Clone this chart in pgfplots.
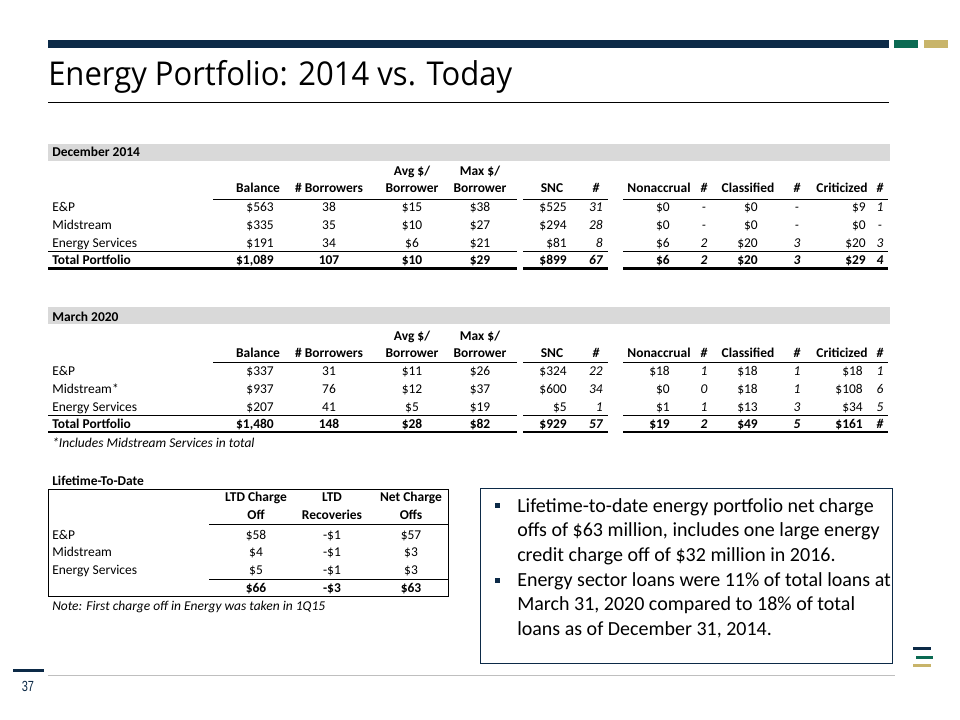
\documentclass[border=0pt]{standalone}
\usepackage{pgfplots}
\pgfplotsset{compat=1.18}
\usepackage{fontspec}
\setmainfont{Carlito}
\newfontfamily\titlefont{Open Sans}
\newfontfamily\numfont{Liberation Sans}
\definecolor{navy}{HTML}{0C2A47}
\definecolor{dgreen}{HTML}{0B6A52}
\definecolor{gold}{HTML}{C8B46A}
\definecolor{bargray}{HTML}{D9D9D9}
\definecolor{linegray}{HTML}{BFBFBF}
\newcommand{\tf}{\fontsize{10.1pt}{12pt}\selectfont}
\newcommand{\bulletfont}{\fontsize{15pt}{18pt}\selectfont}
\newsavebox\titlebox
\pgfplotsset{
  cells/.style={draw=none, mark=none, nodes near coords, point meta=explicit symbolic,
    every node near coord/.append style={inner sep=0pt, text=black, font=\tf}},
  R/.style={cells, every node near coord/.append style={anchor=base east}},
  C/.style={cells, every node near coord/.append style={anchor=base}},
  B/.style={every node near coord/.append style={font=\tf\bfseries}},
  I/.style={every node near coord/.append style={font=\tf\itshape}},
  BI/.style={every node near coord/.append style={font=\tf\bfseries\itshape}},
}
\begin{document}%
\sbox\titlebox{\titlefont\fontsize{24.6pt}{30pt}\selectfont Energy Portfolio: 2014 vs. Today}%
\begin{tikzpicture}
\begin{axis}[scale only axis, width=720pt, height=540pt,
  xmin=0, xmax=960, ymin=0, ymax=720, y dir=reverse,
  hide axis, clip=false]
\fill[white] (0,0) rectangle (960,720);
% header decorations
\fill[navy] (48,40) rectangle (889,48);
\fill[dgreen] (894,40) rectangle (918,48);
\fill[gold] (924,40) rectangle (948,48);
\node[anchor=base west, inner sep=0pt, text=navy] at (48,86) {\resizebox{348pt}{\height}{\usebox\titlebox}};
\draw[black, line width=0.75pt] (48,103) -- (889,103);
% ---------------- December 2014 ----------------
\fill[bargray] (48,144) rectangle (890,160.7);
\node[anchor=base west, inner sep=0pt, font=\tf\bfseries] at (52,157) {December 2014};
\node[anchor=base, inner sep=0pt, font=\tf\bfseries] at (412,175.5) {Avg \$/};
\node[anchor=base, inner sep=0pt, font=\tf\bfseries] at (480,175.5) {Max \$/};
\node[anchor=base, inner sep=0pt, font=\tf\bfseries] at (258,193) {Balance};
\node[anchor=base, inner sep=0pt, font=\tf\bfseries] at (329,193) {\# Borrowers};
\node[anchor=base, inner sep=0pt, font=\tf\bfseries] at (412,193) {Borrower};
\node[anchor=base, inner sep=0pt, font=\tf\bfseries] at (480,193) {Borrower};
\node[anchor=base, inner sep=0pt, font=\tf\bfseries] at (552,193) {SNC};
\node[anchor=base, inner sep=0pt, font=\tf\bfseries\itshape] at (596,193) {\#};
\node[anchor=base, inner sep=0pt, font=\tf\bfseries] at (659,193) {Nonaccrual};
\node[anchor=base, inner sep=0pt, font=\tf\bfseries\itshape] at (704,193) {\#};
\node[anchor=base, inner sep=0pt, font=\tf\bfseries] at (748,193) {Classified};
\node[anchor=base, inner sep=0pt, font=\tf\bfseries\itshape] at (797,193) {\#};
\node[anchor=base, inner sep=0pt, font=\tf\bfseries] at (842,193) {Criticized};
\node[anchor=base, inner sep=0pt, font=\tf\bfseries\itshape] at (880,193) {\#};
\node[anchor=base west, inner sep=0pt, font=\tf] at (52,212) {E\&P};
\node[anchor=base west, inner sep=0pt, font=\tf] at (52,229.5) {Midstream};
\node[anchor=base west, inner sep=0pt, font=\tf] at (52,247.5) {Energy Services};
\node[anchor=base west, inner sep=0pt, font=\tf\bfseries] at (52,265) {Total Portfolio};
\draw[line width=0.75pt] (213,199.3) -- (517,199.3) (523,199.3) -- (608,199.3) (623,199.3) -- (888,199.3);
\draw[line width=0.75pt] (48,251.7) -- (517,251.7) (523,251.7) -- (608,251.7) (623,251.7) -- (888,251.7);
\draw[line width=1.6pt] (48,268.5) -- (517,268.5) (523,268.5) -- (608,268.5) (623,268.5) -- (888,268.5);
% regular right-aligned cells
\addplot[R] coordinates {
 (274,212)[\$563] (274,229.5)[\$335] (274,247.5)[\$191]
 (567,212)[\$525] (567,229.5)[\$294] (567,247.5)[\$81]
 (670,212)[\$0] (670,229.5)[\$0] (670,247.5)[\$6]
 (758,212)[\$0] (758,229.5)[\$0] (758,247.5)[\$20]
 (866,212)[\$9] (866,229.5)[\$0] (866,247.5)[\$20]
};
\addplot[C] coordinates {
 (329,212)[38] (329,229.5)[35] (329,247.5)[34]
 (412,212)[\$15] (412,229.5)[\$10] (412,247.5)[\$6]
 (480,212)[\$38] (480,229.5)[\$27] (480,247.5)[\$21]
};
\addplot[R, I] coordinates {(603,212)[31] (603,229.5)[28] (603,247.5)[8]};
\addplot[C, I] coordinates {
 (704,212)[-] (704,229.5)[-] (704,247.5)[2]
 (797,212)[-] (797,229.5)[-] (797,247.5)[3]
 (880,212)[1] (880,229.5)[-] (880,247.5)[3]
};
\addplot[R, B] coordinates {(274,265)[{\$1,089}] (567,265)[\$899] (670,265)[\$6] (758,265)[\$20] (866,265)[\$29]};
\addplot[C, B] coordinates {(329,265)[107] (412,265)[\$10] (480,265)[\$29]};
\addplot[R, BI] coordinates {(603,265)[67]};
\addplot[C, BI] coordinates {(704,265)[2] (797,265)[3] (880,265)[4]};
% ---------------- March 2020 ----------------
\fill[bargray] (48,307) rectangle (890,324);
\node[anchor=base west, inner sep=0pt, font=\tf\bfseries] at (52,321) {March 2020};
\node[anchor=base, inner sep=0pt, font=\tf\bfseries] at (412,340.5) {Avg \$/};
\node[anchor=base, inner sep=0pt, font=\tf\bfseries] at (480,340.5) {Max \$/};
\node[anchor=base, inner sep=0pt, font=\tf\bfseries] at (258,357) {Balance};
\node[anchor=base, inner sep=0pt, font=\tf\bfseries] at (329,357) {\# Borrowers};
\node[anchor=base, inner sep=0pt, font=\tf\bfseries] at (412,357) {Borrower};
\node[anchor=base, inner sep=0pt, font=\tf\bfseries] at (480,357) {Borrower};
\node[anchor=base, inner sep=0pt, font=\tf\bfseries] at (552,357) {SNC};
\node[anchor=base, inner sep=0pt, font=\tf\bfseries\itshape] at (596,357) {\#};
\node[anchor=base, inner sep=0pt, font=\tf\bfseries] at (659,357) {Nonaccrual};
\node[anchor=base, inner sep=0pt, font=\tf\bfseries\itshape] at (704,357) {\#};
\node[anchor=base, inner sep=0pt, font=\tf\bfseries] at (748,357) {Classified};
\node[anchor=base, inner sep=0pt, font=\tf\bfseries\itshape] at (797,357) {\#};
\node[anchor=base, inner sep=0pt, font=\tf\bfseries] at (842,357) {Criticized};
\node[anchor=base, inner sep=0pt, font=\tf\bfseries\itshape] at (880,357) {\#};
\node[anchor=base west, inner sep=0pt, font=\tf] at (52,375.5) {E\&P};
\node[anchor=base west, inner sep=0pt, font=\tf] at (52,393) {Midstream*};
\node[anchor=base west, inner sep=0pt, font=\tf] at (52,411) {Energy Services};
\node[anchor=base west, inner sep=0pt, font=\tf\bfseries] at (52,428.5) {Total Portfolio};
\node[anchor=base west, inner sep=0pt, font=\tf\itshape] at (52,447) {*Includes Midstream Services in total};
\draw[line width=0.75pt] (213,362) -- (517,362) (523,362) -- (608,362) (623,362) -- (888,362);
\draw[line width=0.75pt] (48,415.5) -- (517,415.5) (523,415.5) -- (608,415.5) (623,415.5) -- (888,415.5);
\draw[line width=1.6pt] (48,432) -- (517,432) (523,432) -- (608,432) (623,432) -- (888,432);
\addplot[R] coordinates {
 (274,375.5)[\$337] (274,393)[\$937] (274,411)[\$207]
 (567,375.5)[\$324] (567,393)[\$600] (567,411)[\$5]
 (670,375.5)[\$18] (670,393)[\$0] (670,411)[\$1]
 (758,375.5)[\$18] (758,393)[\$18] (758,411)[\$13]
 (863,375.5)[\$18] (863,393)[\$108] (863,411)[\$34]
};
\addplot[C] coordinates {
 (329,375.5)[31] (329,393)[76] (329,411)[41]
 (412,375.5)[\$11] (412,393)[\$12] (412,411)[\$5]
 (480,375.5)[\$26] (480,393)[\$37] (480,411)[\$19]
};
\addplot[R, I] coordinates {(603,375.5)[22] (603,393)[34] (603,411)[1]};
\addplot[C, I] coordinates {
 (704,375.5)[1] (704,393)[0] (704,411)[1]
 (797,375.5)[1] (797,393)[1] (797,411)[3]
 (880,375.5)[1] (880,393)[6] (880,411)[5]
};
\addplot[R, B] coordinates {(274,428.5)[{\$1,480}] (567,428.5)[\$929] (670,428.5)[\$19] (758,428.5)[\$49] (863,428.5)[\$161]};
\addplot[C, B] coordinates {(329,428.5)[148] (412,428.5)[\$28] (480,428.5)[\$82]};
\addplot[R, BI] coordinates {(603,428.5)[57]};
\addplot[C, BI] coordinates {(704,428.5)[2] (797,428.5)[5] (880,428.5)[\#]};
% ---------------- Lifetime-To-Date ----------------
\node[anchor=base west, inner sep=0pt, font=\tf\bfseries] at (52,485.7) {Lifetime-To-Date};
\draw[line width=0.75pt] (48.3,489.3) rectangle (448.3,596.7);
\node[anchor=base, inner sep=0pt, font=\tf\bfseries] at (256,501.5) {LTD Charge};
\node[anchor=base, inner sep=0pt, font=\tf\bfseries] at (256,519) {Off};
\node[anchor=base, inner sep=0pt, font=\tf\bfseries] at (332,501.5) {LTD};
\node[anchor=base, inner sep=0pt, font=\tf\bfseries] at (332,519) {Recoveries};
\node[anchor=base, inner sep=0pt, font=\tf\bfseries] at (411,501.5) {Net Charge};
\node[anchor=base, inner sep=0pt, font=\tf\bfseries] at (411,519) {Offs};
\draw[line width=0.75pt] (209,524.3) -- (448.3,524.3);
\draw[line width=0.75pt] (209,579) -- (448.3,579);
\node[anchor=base west, inner sep=0pt, font=\tf] at (52,539) {E\&P};
\node[anchor=base west, inner sep=0pt, font=\tf] at (52,556.5) {Midstream};
\node[anchor=base west, inner sep=0pt, font=\tf] at (52,574) {Energy Services};
\addplot[C] coordinates {
 (256,539)[\$58] (256,556.5)[\$4] (256,574)[\$5]
 (332,539)[-\$1] (332,556.5)[-\$1] (332,574)[-\$1]
 (411,539)[\$57] (411,556.5)[\$3] (411,574)[\$3]
};
\addplot[C, B] coordinates {(256,592)[\$66] (332,592)[-\$3] (411,592)[\$63]};
\node[anchor=base west, inner sep=0pt, font=\tf\itshape] at (52,610.7) {Note: First charge off in Energy was taken in 1Q15};
% ---------------- text box ----------------
\draw[color=navy, line width=0.75pt] (480.5,488.5) rectangle (892.5,663);
\fill[navy] (495,502.5) rectangle (500,507.5);
\fill[navy] (495,577.5) rectangle (500,582.5);
\node[anchor=base west, inner sep=0pt, font=\bulletfont] at (517,512.3) {Lifetime-to-date energy portfolio net charge};
\node[anchor=base west, inner sep=0pt, font=\bulletfont] at (517,536.7) {offs of \$63 million, includes one large energy};
\node[anchor=base west, inner sep=0pt, font=\bulletfont] at (517,561) {credit charge off of \$32 million in 2016.};
\node[anchor=base west, inner sep=0pt, font=\bulletfont] at (517,586) {Energy sector loans were 11\% of total loans at};
\node[anchor=base west, inner sep=0pt, font=\bulletfont] at (517,610.5) {March 31, 2020 compared to 18\% of total};
\node[anchor=base west, inner sep=0pt, font=\bulletfont] at (517,635) {loans as of December 31, 2014.};
% ---------------- footer ----------------
\fill[navy] (913,647.3) rectangle (931,650.3);
\fill[dgreen] (916,655.7) rectangle (933,658.7);
\fill[gold] (913,664.3) rectangle (931,667.3);
\fill[navy] (12.7,669.3) rectangle (44,671.7);
\draw[linegray, line width=0.75pt] (48,675) -- (895,675);
\node[anchor=base, inner sep=0pt, text=navy, font=\numfont\fontsize{11pt}{13pt}\selectfont] at (28,691.7) {\scalebox{0.75}[1]{37}};
\end{axis}
\end{tikzpicture}%
\end{document}
